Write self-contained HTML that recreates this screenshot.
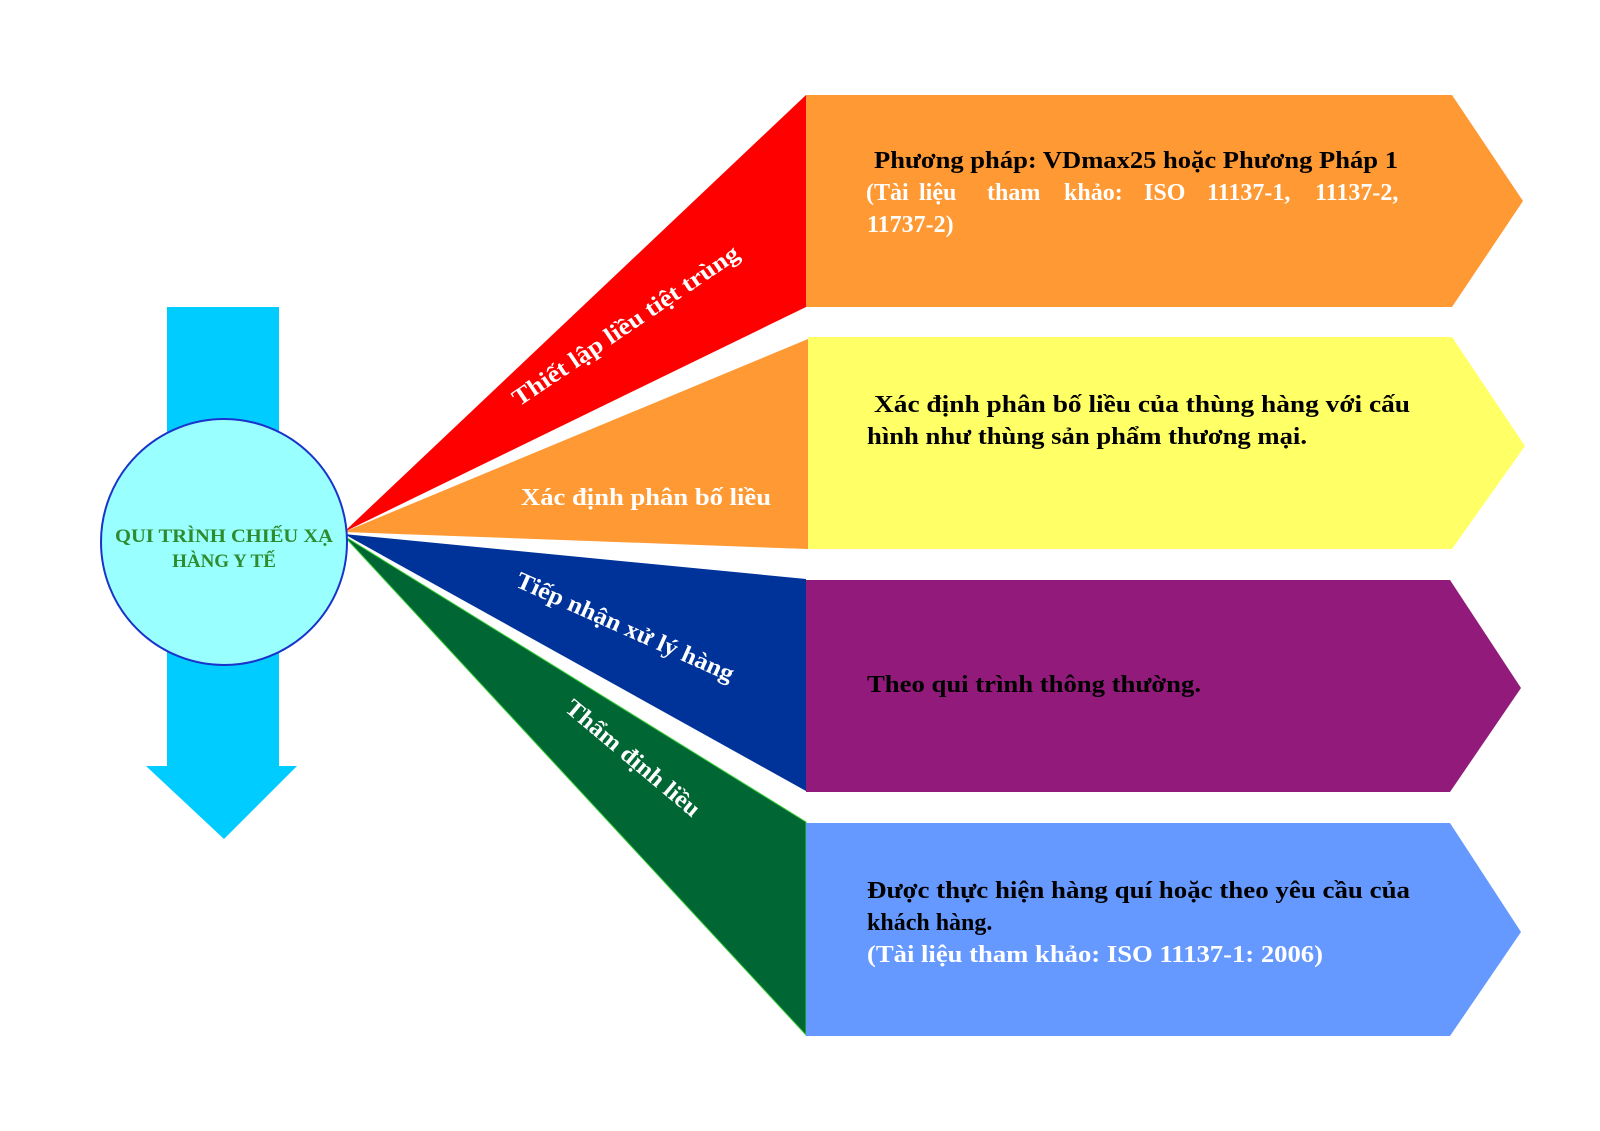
<!DOCTYPE html>
<html><head><meta charset="utf-8"><style>
html,body{margin:0;padding:0;background:#fff}
svg{display:block}
text{font-family:"Liberation Serif",serif;font-weight:bold}
</style></head><body>
<svg width="1600" height="1131" viewBox="0 0 1600 1131" xmlns="http://www.w3.org/2000/svg">
<polygon points="167,307 279,307 279,766 297,766 224,839 146,766 167,766" fill="#00ccff"/>
<polygon points="344,532 806,95 806,307" fill="#ff0000"/>
<polygon points="344,532 808,339 808,549" fill="#ff9933"/>
<polygon points="344,534 806,579 806,791" fill="#003399"/>
<polygon points="344,536 806,822 806,1035" fill="#006633" stroke="#33cc33" stroke-width="1"/>
<ellipse cx="224" cy="542" rx="123" ry="123" fill="#99ffff" stroke="#1a33cc" stroke-width="2"/>
<text x="224" y="542" font-size="19" fill="#2e8b2e" text-anchor="middle" textLength="218" lengthAdjust="spacingAndGlyphs">QUI TRÌNH CHIẾU XẠ</text>
<text x="224" y="567" font-size="19" fill="#2e8b2e" text-anchor="middle">HÀNG Y TẾ</text>
<polygon points="806,95 1452,95 1523,201 1452,307 806,307" fill="#ff9933"/>
<polygon points="808,337 1452,337 1525,446 1452,549 808,549" fill="#ffff66"/>
<polygon points="806,580 1450,580 1521,688 1450,792 806,792" fill="#911a7a"/>
<polygon points="806,823 1450,823 1521,932 1450,1036 806,1036" fill="#6699ff"/>
<text transform="translate(630,332) rotate(-34)" font-size="24" fill="#fff" text-anchor="middle" textLength="268" lengthAdjust="spacingAndGlyphs">Thiết lập liều tiệt trùng</text>
<text x="521" y="505" font-size="24" fill="#fff" textLength="250" lengthAdjust="spacingAndGlyphs">Xác định phân bố liều</text>
<text transform="translate(622,634) rotate(24)" font-size="24" fill="#fff" text-anchor="middle" textLength="236" lengthAdjust="spacingAndGlyphs">Tiếp nhận xử lý hàng</text>
<text transform="translate(628,764) rotate(40)" font-size="24" fill="#fff" text-anchor="middle" textLength="168" lengthAdjust="spacingAndGlyphs">Thẩm định liều</text>
<text x="874" y="168" font-size="24" fill="#000" textLength="524" lengthAdjust="spacingAndGlyphs">Phương pháp: VDmax25 hoặc Phương Pháp 1</text>
<g font-size="24" fill="#fff">
<text x="866" y="200">(Tài</text>
<text x="919" y="200">liệu</text>
<text x="987" y="200">tham</text>
<text x="1064" y="200">khảo:</text>
<text x="1144" y="200">ISO</text>
<text x="1207" y="200">11137-1,</text>
<text x="1315" y="200">11137-2,</text>
</g>
<text x="867" y="232" font-size="24" fill="#fff">11737-2)</text>
<text x="874" y="412" font-size="24" fill="#000" textLength="536" lengthAdjust="spacingAndGlyphs">Xác định phân bố liều của thùng hàng với cấu</text>
<text x="867" y="444" font-size="24" fill="#000" textLength="440" lengthAdjust="spacingAndGlyphs">hình như thùng sản phẩm thương mại.</text>
<text x="867" y="692" font-size="24" fill="#000" textLength="334" lengthAdjust="spacingAndGlyphs">Theo qui trình thông thường.</text>
<text x="867" y="898" font-size="24" fill="#000" textLength="543" lengthAdjust="spacingAndGlyphs">Được thực hiện hàng quí hoặc theo yêu cầu của</text>
<text x="867" y="930" font-size="24" fill="#000">khách hàng.</text>
<text x="867" y="962" font-size="24" fill="#fff" textLength="456" lengthAdjust="spacingAndGlyphs">(Tài liệu tham khảo: ISO 11137-1: 2006)</text>
</svg>
</body></html>
